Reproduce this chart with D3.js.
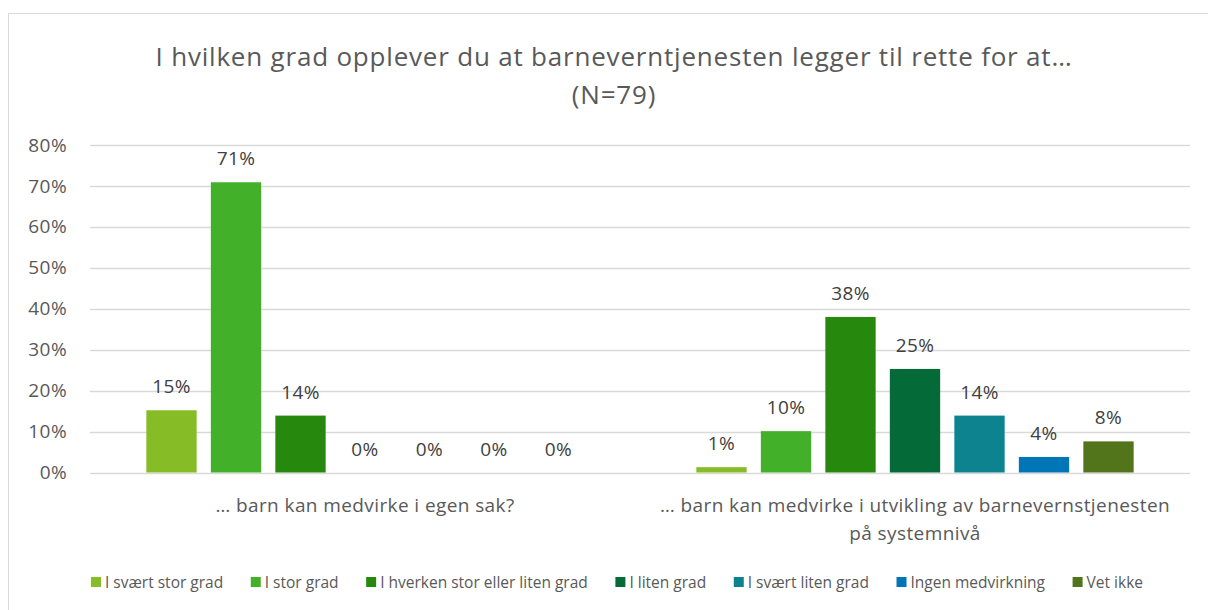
<!doctype html>
<html lang="no">
<head>
<meta charset="UTF-8" />
<title>Barnevern medvirkning</title>
<script src="https://cdn.jsdelivr.net/npm/d3@7"></script>
<style>
  body { margin: 0; background: #fff; }
  svg text { font-family: "Open Sans", "Noto Sans", sans-serif; fill: #595959; }
  svg text.value { fill: #404040; }
</style>
</head>
<body>
<div id="chart"></div>
<script>
// data (N=79)
const categories = [
  "… barn kan medvirke i egen sak?",
  "… barn kan medvirke i utvikling av barnevernstjenesten|på systemnivå"
];
const seriesNames = [
  "I svært stor grad",
  "I stor grad",
  "I hverken stor eller liten grad",
  "I liten grad",
  "I svært liten grad",
  "Ingen medvirkning",
  "Vet ikke"
];
const egenSak = [15.2, 70.9, 13.9, 0, 0, 0, 0];
const systemniva = [1.3, 10.1, 38.0, 25.3, 13.9, 3.8, 7.6];
const colors = ["#86bc25", "#43b02a", "#26890d", "#046a38", "#0d8390", "#0076b6", "#52741a"];
const yTicks = [0, 10, 20, 30, 40, 50, 60, 70, 80];

const values = [egenSak, systemniva];

const width = 1208, height = 610;
const marginLeft = 90, marginRight = 18, plotTop = 145, plotBottom = 472.5;

const svg = d3.select("#chart").append("svg")
  .attr("width", width)
  .attr("height", height);

// chart border
svg.append("rect")
  .attr("x", 8.5).attr("y", 13.5)
  .attr("width", 1220).attr("height", 620)
  .attr("fill", "#fff")
  .attr("stroke", "#d9d9d9");

// title
const title = svg.append("text")
  .attr("text-anchor", "middle")
  .style("font-size", "26px")
  .style("letter-spacing", "0.8px");
title.append("tspan").attr("x", 614).attr("y", 66)
  .text("I hvilken grad opplever du at barneverntjenesten legger til rette for at…");
title.append("tspan").attr("x", 614).attr("y", 104).text("(N=79)");

const x0 = d3.scaleBand()
  .domain(d3.range(categories.length))
  .range([marginLeft, width - marginRight]);

const x1 = d3.scaleBand()
  .domain(d3.range(seriesNames.length))
  .range([0, 7 * 64.5])
  .paddingInner(0.22)
  .paddingOuter(0.11);

const y = d3.scaleLinear()
  .domain([0, 80])
  .range([plotBottom, plotTop]);

// gridlines
svg.append("g")
  .selectAll("line")
  .data(yTicks)
  .join("line")
  .attr("x1", marginLeft).attr("x2", width - marginRight)
  .attr("y1", d => Math.round(y(d)) + 0.5)
  .attr("y2", d => Math.round(y(d)) + 0.5)
  .attr("stroke", "#d9d9d9")
  .attr("stroke-width", 1.3);

// y axis labels
const yAxis = svg.append("g")
  .attr("transform", `translate(${marginLeft},0)`)
  .call(d3.axisLeft(y).tickValues(yTicks).tickFormat(d => d + "%").tickSize(0).tickPadding(23));
yAxis.select(".domain").remove();
yAxis.selectAll("text")
  .style("font-size", "19px")
  .style("letter-spacing", "0.4px")
  .style("font-family", "\"Open Sans\", sans-serif")
  .attr("fill", "#595959");

// bars
const groups = svg.append("g")
  .selectAll("g")
  .data(values)
  .join("g")
  .attr("transform", (d, i) => `translate(${x0(i) + x0.bandwidth() / 2 - x1.range()[1] / 2},0)`);

groups.selectAll("rect")
  .data(d => d)
  .join("rect")
  .attr("x", (d, i) => x1(i))
  .attr("y", d => y(d))
  .attr("width", x1.bandwidth())
  .attr("height", d => y(0) - y(d))
  .attr("fill", (d, i) => colors[i]);

groups.selectAll("text")
  .data(d => d)
  .join("text")
  .attr("class", "value")
  .attr("x", (d, i) => x1(i) + x1.bandwidth() / 2)
  .attr("y", d => y(d) - 17)
  .attr("text-anchor", "middle")
  .style("font-size", "19px")
  .style("letter-spacing", "0.4px")
  .text(d => Math.round(d) + "%");

// category labels
categories.forEach((c, i) => {
  const t = svg.append("text")
    .attr("text-anchor", "middle")
    .style("font-size", "19px")
    .style("letter-spacing", "0.4px");
  c.split("|").forEach((line, j) => {
    t.append("tspan")
      .attr("x", x0(i) + x0.bandwidth() / 2)
      .attr("y", 512 + j * 28)
      .text(line);
  });
});

// legend, spread between the first and last entry like the reference
const legendLeft = 91, legendRight = 1143;
const legend = svg.append("g")
  .selectAll("g")
  .data(seriesNames)
  .join("g");
legend.append("rect")
  .attr("y", 577)
  .attr("width", 10).attr("height", 10)
  .attr("fill", (d, i) => colors[i]);
legend.append("text")
  .attr("x", 14).attr("y", 588)
  .style("font-size", "15.5px")
  .text(d => d);

const itemW = [];
legend.each(function () {
  itemW.push(14 + d3.select(this).select("text").node().getComputedTextLength());
});
const gap = (legendRight - legendLeft - d3.sum(itemW)) / (itemW.length - 1);
let lx = legendLeft;
legend.each(function (d, i) {
  d3.select(this).attr("transform", `translate(${lx},0)`);
  lx += itemW[i] + gap;
});
</script>
</body>
</html>
